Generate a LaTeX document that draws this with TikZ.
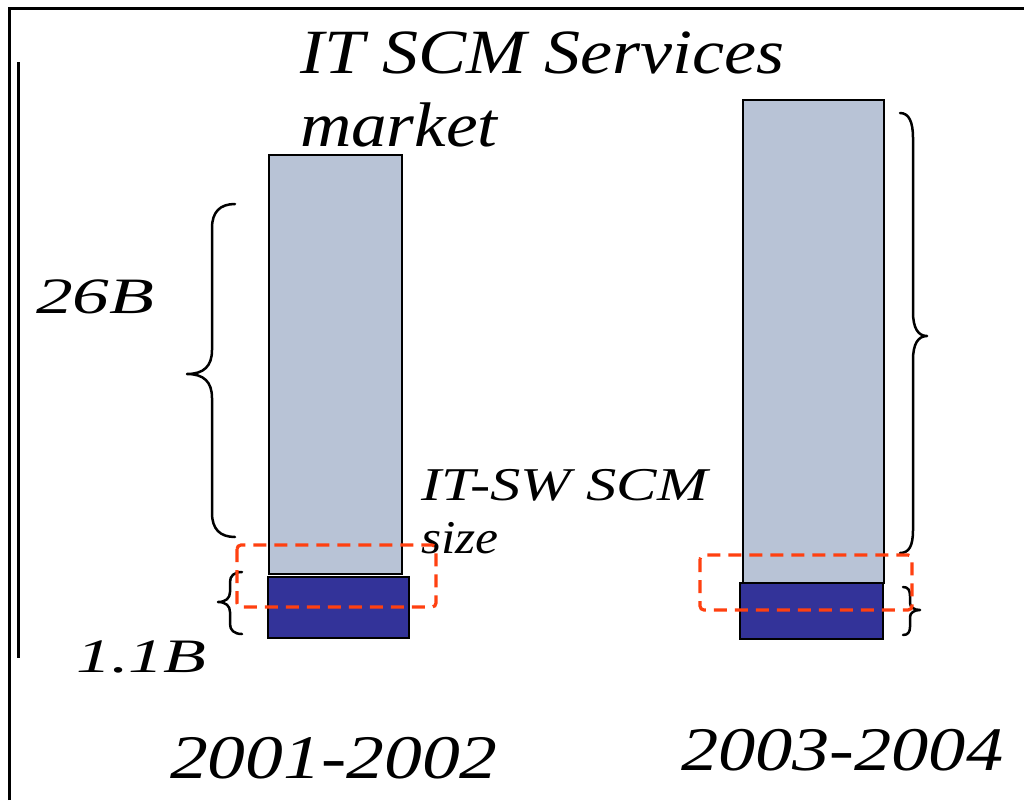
\documentclass[tikz,border=0pt]{standalone}
\usepackage{fontspec}
\usepackage{graphicx}
\setmainfont{Liberation Serif}
\definecolor{barlight}{RGB}{184,195,214}
\definecolor{bardark}{RGB}{51,51,153}
\definecolor{markred}{RGB}{255,64,16}
\tikzset{
  lightbar/.style={draw=black, line width=2.8pt, fill=barlight, anchor=north west, inner sep=0pt, outer sep=0pt},
  darkbar/.style={draw=black, line width=2.8pt, fill=bardark, anchor=north west, inner sep=0pt, outer sep=0pt},
  brace/.style={draw=black, line width=2.5pt, line cap=round, line join=round},
  markbox/.style={draw=markred, line width=3.2pt, dash pattern=on 13pt off 8pt, rounded corners=4pt},
  frameline/.style={draw=black, line width=3pt},
  label/.style={anchor=base west, inner sep=0pt, outer sep=0pt},
}
% italic label: font size, horizontal stretch, text
\newcommand{\itlabel}[3]{\scalebox{#2}[1]{\fontsize{#1}{#1}\selectfont\itshape #3}}
% one horizontally stretched line inside a label
\newcommand{\wideline}[2]{\scalebox{#1}[1]{#2}}
\begin{document}
\begin{tikzpicture}[x=1pt, y=-1pt]
  \useasboundingbox (0,0) rectangle (1024,800);
  \fill[white] (0,0) rectangle (1024,800);

  % frame and side rule
  \draw[frameline] (9,800) -- (9,9) -- (1024,9);
  \draw[frameline] (18,62) -- (18,658);

  % bars for 2001-2002
  \node[lightbar, minimum width=133pt, minimum height=419pt] (light1) at (269,155) {};
  \node[darkbar, minimum width=141pt, minimum height=61pt] (dark1) at (268,577) {};

  % bars for 2003-2004
  \node[lightbar, minimum width=141pt, minimum height=483pt] (light2) at (743,100) {};
  \node[darkbar, minimum width=143pt, minimum height=56pt] (dark2) at (740,583) {};

  % left braces
  \draw[brace] (235,204) .. controls (220,204) and (212,212) .. (212,228)
    -- (212,350) .. controls (212,366) and (204,374) .. (187,374)
    .. controls (204,374) and (212,382) .. (212,398)
    -- (212,513) .. controls (212,529) and (220,537) .. (235,537);
  \draw[brace] (242,572) .. controls (234,572) and (230,576) .. (230,582)
    -- (230,592) .. controls (230,598) and (226,602) .. (218,602)
    .. controls (226,602) and (230,606) .. (230,612)
    -- (230,624) .. controls (230,630) and (234,634) .. (242,634);

  % right braces
  \draw[brace] (900,113) .. controls (909,113) and (913,122) .. (913,138)
    -- (913,312) .. controls (913,328) and (918,336) .. (927,336)
    .. controls (918,336) and (913,344) .. (913,360)
    -- (913,530) .. controls (913,546) and (909,553) .. (900,553);
  \draw[brace] (903,587) .. controls (908,587) and (910,590) .. (910,596)
    -- (910,603) .. controls (910,607) and (914,610) .. (920,610)
    .. controls (914,610) and (910,613) .. (910,617)
    -- (910,627) .. controls (910,632) and (908,635) .. (903,635);

  % texts
  \node[label] (title) at (300,74) {\fontsize{63}{72}\selectfont\itshape
    \begin{tabular}[t]{@{}l@{}}\wideline{1.145}{IT SCM Services}\\\wideline{1.13}{market}\end{tabular}};
  \node[label] (big) at (36,313) {\itlabel{51}{1.44}{26B}};
  \node[label] (small) at (76,672) {\itlabel{48}{1.46}{1.1B}};
  \node[label] (swsize) at (421,500) {\fontsize{47}{53}\selectfont\itshape
    \begin{tabular}[t]{@{}l@{}}\wideline{1.29}{IT-SW SCM}\\\wideline{1.1}{size}\end{tabular}};
  \node[label] (year1) at (170,778) {\itlabel{62}{1.22}{2001-2002}};
  \node[label] (year2) at (681,770) {\itlabel{62}{1.2}{2003-2004}};

  % dashed marks around the software share
  \draw[markbox] (237,545) rectangle (436,607);
  \draw[markbox] (700,555) rectangle (912,610);
\end{tikzpicture}
\end{document}
